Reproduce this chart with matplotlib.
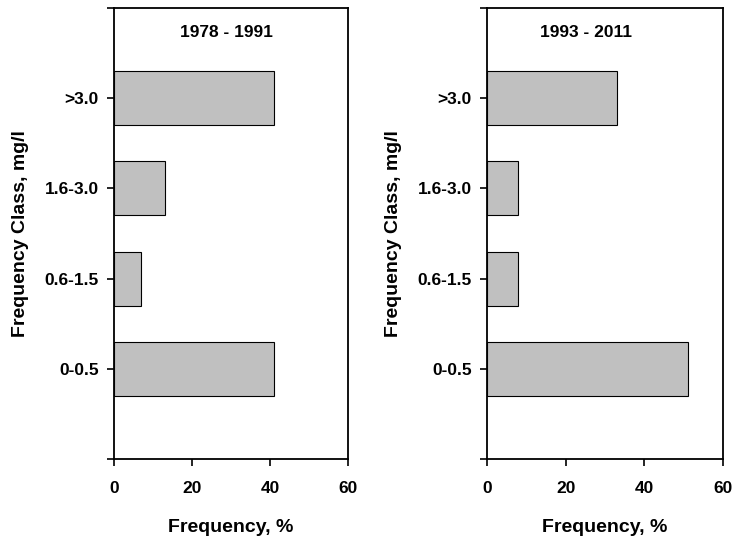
import matplotlib
matplotlib.use("Agg")
from matplotlib import pyplot as plt

plt.rcParams['font.family'] = ['Liberation Sans', 'DejaVu Sans']
plt.rcParams['font.weight'] = 'bold'

# data
classes = ["0-0.5", "0.6-1.5", "1.6-3.0", ">3.0"]
freq_1978_1991 = [41, 7, 13, 41]
freq_1993_2011 = [51, 8, 8, 33]
titles = ["1978 - 1991", "1993 - 2011"]
xticks = [0, 20, 40, 60]

fig = plt.figure(figsize=(7.33, 5.39), dpi=100)
ax1 = fig.add_axes([114 / 733, 80 / 539, 234 / 733, 451 / 539])
ax2 = fig.add_axes([487 / 733, 80 / 539, 236 / 733, 451 / 539])

pos = [1, 2, 3, 4]
for ax, vals, title, tx in [(ax1, freq_1978_1991, titles[0], 0.48),
                            (ax2, freq_1993_2011, titles[1], 0.42)]:
    ax.barh(pos, vals, height=0.6, color="#c0c0c0", edgecolor="black", linewidth=0.8)
    ax.set_xlim(0, 60)
    ax.set_ylim(0, 5)
    ax.set_xticks(xticks)
    ax.set_yticks([0, 1, 2, 3, 4, 5])
    ax.set_yticklabels([""] + classes + [""])
    ax.tick_params(direction="out", length=5, width=1.2, labelsize=12.5)
    ax.tick_params(axis="x", pad=10.5)
    ax.tick_params(axis="y", pad=6)
    for s in ax.spines.values():
        s.set_linewidth(1.3)
    ax.set_xlabel("Frequency, %", fontsize=14, fontweight="bold", labelpad=17)
    ax.set_ylabel("Frequency Class, mg/l", fontsize=14, fontweight="bold", labelpad=11)
    ax.text(tx, 0.945, title, transform=ax.transAxes, ha="center", va="center",
            fontsize=12.5, fontweight="bold")

fig.savefig("out.png", dpi=100)
